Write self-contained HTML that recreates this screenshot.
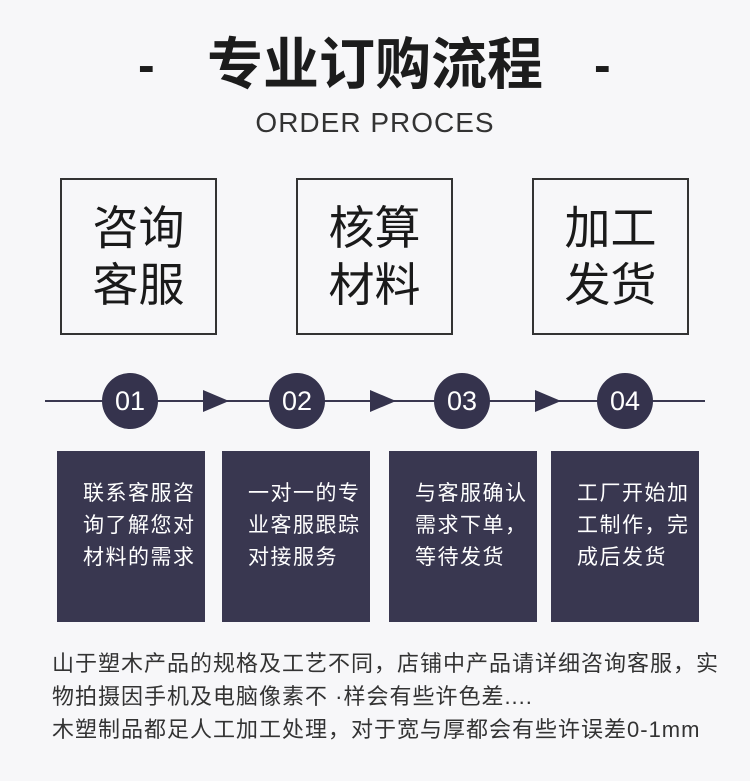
<!DOCTYPE html>
<html><head><meta charset="utf-8"><style>
body{margin:0;width:750px;height:781px;background:#f7f7f9;position:relative;overflow:hidden;font-family:"Liberation Sans","Noto Sans CJK SC",sans-serif;color:#222}
.a{position:absolute}
.title{left:0;width:750px;top:30px;text-align:center;font-size:56px;font-weight:bold;color:#1c1c1c;line-height:70px}
.dash{top:30px;font-size:50px;font-weight:bold;line-height:70px;color:#1c1c1c}
.sub{left:0;width:750px;top:106px;text-align:center;font-size:28px;letter-spacing:1px;color:#333;line-height:34px}
.box{border:2px solid #333;box-sizing:border-box;width:157px;height:157px;top:178px;font-size:46px;line-height:57px;text-align:center;padding-top:20px;color:#1a1a1a}
.line{left:45px;width:660px;top:400px;height:2px;background:#3a3850}
.c{width:56px;height:56px;border-radius:50%;background:#35334d;color:#fff;top:373px;font-size:27px;line-height:56px;text-align:center}
.ar{width:0;height:0;border-left:26px solid #35334d;border-top:11px solid transparent;border-bottom:11px solid transparent;top:390px}
.d{background:#393750;top:451px;width:148px;height:171px;color:#fff;font-size:21px;line-height:32px;box-sizing:border-box;padding:27px 0 0 26px;letter-spacing:1.5px;white-space:nowrap}
.n{left:52px;font-size:22px;color:#333;line-height:33px;top:647px;width:700px;letter-spacing:1px;white-space:nowrap}
</style></head><body>
<div class="a dash" style="left:138px">-</div>
<div class="a dash" style="left:594px">-</div>
<div class="a title">专业订购流程</div>
<div class="a sub">ORDER PROCES</div>
<div class="a box" style="left:60px">咨询<br>客服</div>
<div class="a box" style="left:296px">核算<br>材料</div>
<div class="a box" style="left:532px">加工<br>发货</div>
<div class="a line"></div>
<div class="a c" style="left:102px">01</div>
<div class="a c" style="left:269px">02</div>
<div class="a c" style="left:434px">03</div>
<div class="a c" style="left:597px">04</div>
<div class="a ar" style="left:203px"></div>
<div class="a ar" style="left:370px"></div>
<div class="a ar" style="left:535px"></div>
<div class="a d" style="left:57px">联系客服咨<br>询了解您对<br>材料的需求</div>
<div class="a d" style="left:222px">一对一的专<br>业客服跟踪<br>对接服务</div>
<div class="a d" style="left:389px">与客服确认<br>需求下单，<br>等待发货</div>
<div class="a d" style="left:551px">工厂开始加<br>工制作，完<br>成后发货</div>
<div class="a n">山于塑木产品的规格及工艺不同，店铺中产品请详细咨询客服，实<br>物拍摄因手机及电脑像素不 ·样会有些许色差....<br>木塑制品都足人工加工处理，对于宽与厚都会有些许误差0-1mm</div>
</body></html>
